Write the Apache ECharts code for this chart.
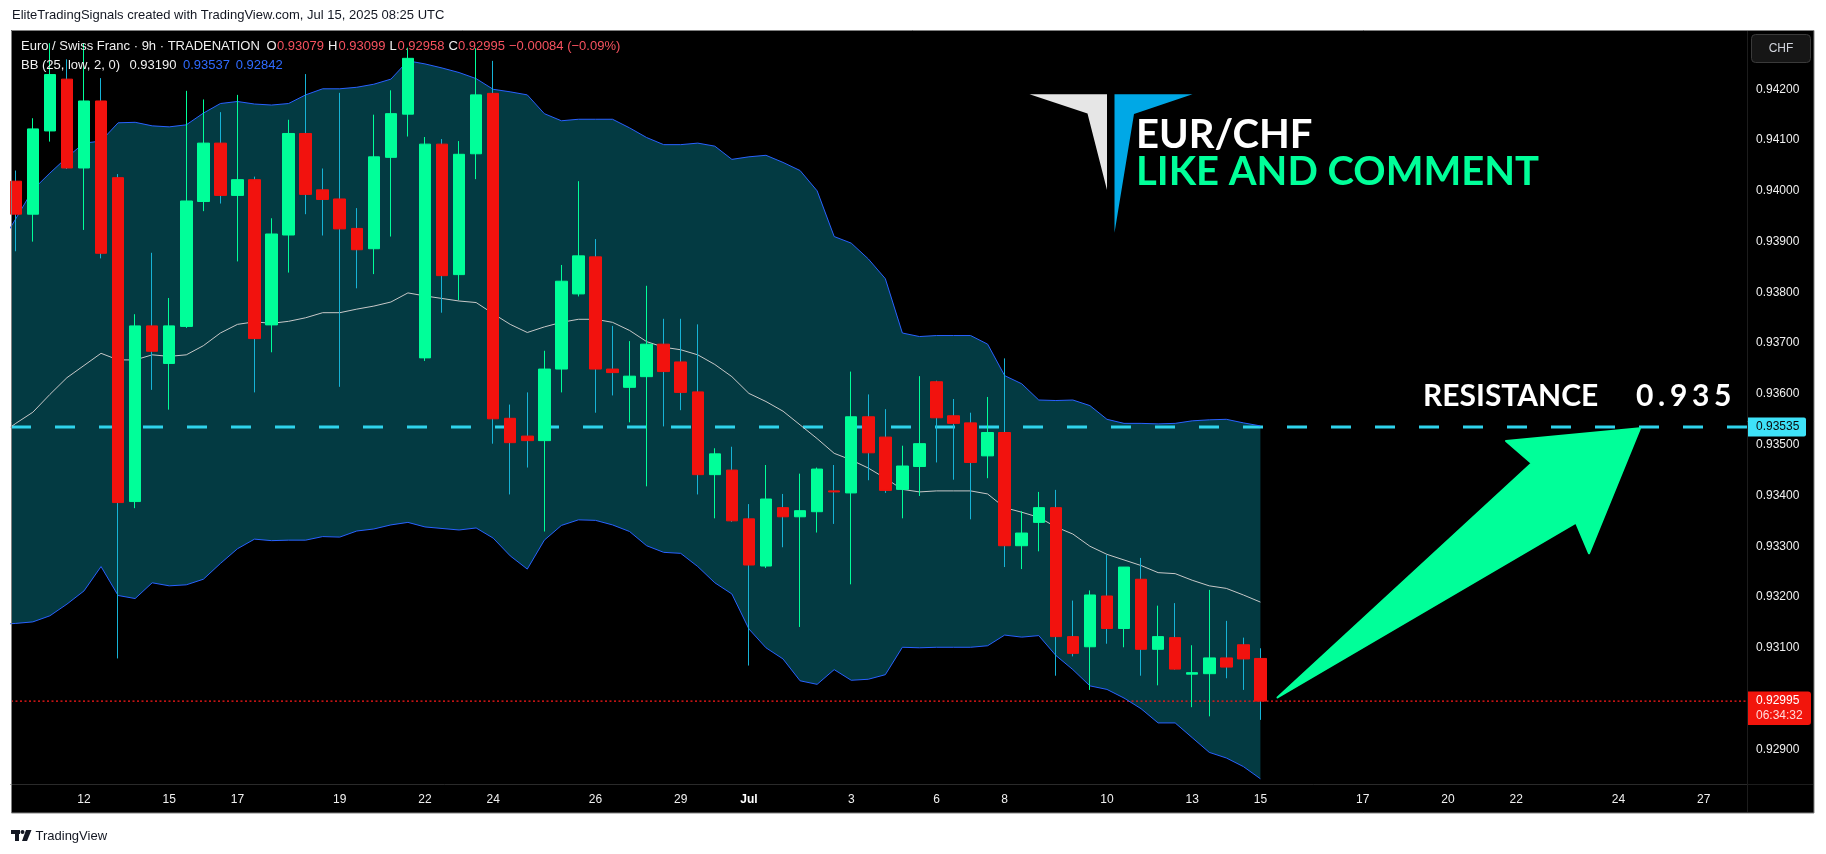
<!DOCTYPE html>
<html>
<head>
<meta charset="utf-8">
<script src="https://cdn.jsdelivr.net/npm/echarts@6.0.0/dist/echarts.min.js"></script>
<style>
html,body{margin:0;padding:0;background:#ffffff;}
#c{width:1826px;height:854px;}
</style>
</head>
<body>
<div id="c"></div>
<script>
// ---- Candles (9h, EUR/CHF), index 0..73 ----
const opens  = [0.94019,0.93954,0.94118,0.94220,0.94045,0.94177,0.94026,0.93388,0.93734,0.93660,
                0.93733,0.93979,0.94094,0.93991,0.94022,0.93736,0.93913,0.94113,0.94002,0.93984,
                0.93926,0.93886,0.94066,0.94151,0.93671,0.94092,0.93835,0.94073,0.94192,0.93552,
                0.93517,0.93508,0.93649,0.93797,0.93870,0.93649,0.93613,0.93634,0.93698,0.93663,
                0.93604,0.93441,0.93450,0.93354,0.93261,0.93376,0.93358,0.93368,0.93409,0.93405,
                0.93555,0.93515,0.93412,0.93457,0.93624,0.93557,0.93543,0.93478,0.93524,0.93301,
                0.93347,0.93376,0.93122,0.93102,0.93202,0.93138,0.93235,0.93097,0.93120,0.93048,
                0.93049,0.93080,0.93106,0.93079];
const highs  = [0.94040,0.94143,0.94291,0.94259,0.94291,0.94222,0.94033,0.93757,0.93878,0.93789,
                0.94197,0.94180,0.94155,0.94189,0.94028,0.93946,0.94140,0.94230,0.94044,0.94193,
                0.93966,0.94150,0.94198,0.94282,0.94106,0.94102,0.94098,0.94281,0.94256,0.93579,
                0.93603,0.93685,0.93854,0.94019,0.93905,0.93734,0.93704,0.93813,0.93748,0.93748,
                0.93737,0.93493,0.93496,0.93383,0.93460,0.93403,0.93443,0.93455,0.93460,0.93644,
                0.93599,0.93570,0.93498,0.93635,0.93626,0.93590,0.93563,0.93594,0.93670,0.93369,
                0.93407,0.93411,0.93193,0.93213,0.93283,0.93259,0.93277,0.93183,0.93188,0.93105,
                0.93214,0.93153,0.93120,0.93099];
const lows   = [0.93881,0.93900,0.94097,0.94043,0.93923,0.93867,0.93079,0.93375,0.93608,0.93569,
                0.93730,0.93960,0.93975,0.93861,0.93603,0.93682,0.93839,0.93954,0.93912,0.93614,
                0.93808,0.93836,0.93910,0.94107,0.93665,0.93760,0.93785,0.94023,0.93502,0.93402,
                0.93455,0.93329,0.93603,0.93792,0.93563,0.93597,0.93544,0.93418,0.93536,0.93568,
                0.93402,0.93355,0.93348,0.93065,0.93257,0.93298,0.93141,0.93327,0.93344,0.93225,
                0.93430,0.93405,0.93355,0.93399,0.93465,0.93431,0.93353,0.93434,0.93259,0.93255,
                0.93290,0.93045,0.93083,0.93017,0.93108,0.93101,0.93045,0.93026,0.93057,0.92983,
                0.92965,0.93040,0.93017,0.92958];
const closes = [0.93954,0.94122,0.94229,0.94045,0.94177,0.93877,0.93386,0.93734,0.93684,0.93734,
                0.93980,0.94094,0.93991,0.94022,0.93709,0.93915,0.94113,0.93993,0.93983,0.93925,
                0.93884,0.94067,0.94152,0.94261,0.94092,0.93833,0.94072,0.94189,0.93551,0.93504,
                0.93508,0.93649,0.93822,0.93872,0.93649,0.93642,0.93635,0.93698,0.93644,0.93603,
                0.93441,0.93482,0.93350,0.93263,0.93393,0.93358,0.93370,0.93452,0.93407,0.93555,
                0.93484,0.93410,0.93458,0.93502,0.93553,0.93542,0.93465,0.93524,0.93301,0.93326,
                0.93376,0.93122,0.93089,0.93204,0.93138,0.93259,0.93097,0.93122,0.93058,0.93051,
                0.93080,0.93062,0.93078,0.92995];

// ---- Bollinger Bands (25, low, 2), index -1..73 ----
const bbStart = -1;
const bbUpper = [0.93890,0.93945,0.94002,0.94035,0.94066,0.94094,0.94098,0.94134,0.94135,0.94128,0.94126,
                 0.94130,0.94153,0.94172,0.94176,0.94171,0.94169,0.94172,0.94189,0.94201,0.94201,
                 0.94204,0.94210,0.94220,0.94256,0.94250,0.94242,0.94233,0.94221,0.94200,0.94195,
                 0.94189,0.94152,0.94138,0.94141,0.94141,0.94141,0.94124,0.94105,0.94091,0.94091,
                 0.94094,0.94088,0.94062,0.94067,0.94070,0.94056,0.94040,0.94000,0.93910,0.93897,
                 0.93866,0.93827,0.93720,0.93713,0.93715,0.93715,0.93715,0.93698,0.93636,0.93620,
                 0.93588,0.93587,0.93588,0.93577,0.93550,0.93542,0.93542,0.93541,0.93542,0.93547,
                 0.93549,0.93550,0.93543,0.93537];
const bbBasis = [0.93518,0.93542,0.93564,0.93599,0.93632,0.93656,0.93680,0.93667,0.93667,0.93677,0.93674,
                 0.93677,0.93695,0.93720,0.93737,0.93742,0.93739,0.93743,0.93750,0.93760,0.93760,
                 0.93767,0.93773,0.93781,0.93799,0.93793,0.93788,0.93783,0.93780,0.93758,0.93737,
                 0.93721,0.93732,0.93741,0.93747,0.93747,0.93741,0.93725,0.93703,0.93692,0.93687,
                 0.93677,0.93658,0.93634,0.93601,0.93585,0.93566,0.93539,0.93512,0.93483,0.93470,
                 0.93454,0.93434,0.93412,0.93407,0.93409,0.93409,0.93409,0.93403,0.93376,0.93367,
                 0.93357,0.93338,0.93324,0.93300,0.93284,0.93273,0.93262,0.93248,0.93246,0.93233,
                 0.93222,0.93217,0.93204,0.93190];
const bbLower = [0.93146,0.93148,0.93151,0.93163,0.93186,0.93212,0.93260,0.93203,0.93197,0.93228,0.93222,
                 0.93224,0.93235,0.93266,0.93295,0.93314,0.93311,0.93312,0.93312,0.93319,0.93318,
                 0.93330,0.93334,0.93342,0.93347,0.93338,0.93335,0.93332,0.93336,0.93316,0.93281,
                 0.93255,0.93312,0.93341,0.93352,0.93351,0.93342,0.93329,0.93301,0.93288,0.93286,
                 0.93260,0.93228,0.93206,0.93137,0.93100,0.93078,0.93035,0.93028,0.93057,0.93036,
                 0.93038,0.93047,0.93101,0.93100,0.93101,0.93101,0.93101,0.93104,0.93125,0.93121,
                 0.93124,0.93085,0.93057,0.93025,0.93018,0.93001,0.92980,0.92952,0.92952,0.92923,
                 0.92894,0.92883,0.92866,0.92842];

// ---- Axis ticks ----
const xTickIndex = [4, 9, 13, 19, 24, 28, 34, 39, 43, 49, 54, 58, 64, 69, 73, 79, 84, 88, 94, 99];
const xTickText  = ['12','15','17','19','22','24','26','29','Jul','3','6','8','10','13','15','17','20','22','24','27'];
const priceTicks = [0.929,0.930,0.931,0.932,0.933,0.934,0.935,0.936,0.937,0.938,0.939,0.940,0.941,0.942];

// ---- Levels ----
const resistance = 0.93535;
const lastPrice = 0.92995;
const countdown = '06:34:32';

// axis ranges
const X_MIN = -0.2815, X_MAX = 101.54;
const Y_MIN = 0.928317, Y_MAX = 0.943168;

// ---- Colours ----
const UP = '#00ff99', DOWN = '#f2120e', DOWN_WICK = '#16b3d6';
const UI_FONT = '"Liberation Sans", Arial, sans-serif';

const wickData = opens.map((o, i) => [i, o, closes[i], lows[i], highs[i]]);
const bodyData = opens.map((o, i) => [i, o, closes[i], Math.min(o, closes[i]), Math.max(o, closes[i])]);
const pts = arr => arr.map((v, k) => [k + bbStart, v]);

const chart = echarts.init(document.getElementById('c'), null, {renderer: 'canvas', width: 1826, height: 854});

const option = {
  animation: false,
  backgroundColor: '#ffffff',
  grid: {left: 11, top: 30, width: 1736, height: 754, containLabel: false},
  xAxis: {
    type: 'value', min: X_MIN, max: X_MAX,
    axisLine: {show: true, onZero: false, lineStyle: {color: '#2a2a2a', width: 1}},
    axisTick: {show: false},
    splitLine: {show: false},
    axisLabel: {
      customValues: xTickIndex,
      formatter: function (v) {
        const k = xTickIndex.indexOf(Math.round(v));
        if (k < 0) return '';
        const t = xTickText[k];
        return t === 'Jul' ? '{b|Jul}' : t;
      },
      color: '#f0f0f0', fontSize: 12, fontFamily: UI_FONT, margin: 10,
      rich: {b: {fontWeight: 'bold', color: '#ffffff', fontSize: 12, fontFamily: UI_FONT}}
    }
  },
  yAxis: {
    type: 'value', position: 'right', min: Y_MIN, max: Y_MAX,
    axisLine: {show: false}, axisTick: {show: false}, splitLine: {show: false},
    axisLabel: {
      customValues: priceTicks,
      formatter: v => v.toFixed(5),
      color: '#f0f0f0', fontSize: 12, fontFamily: UI_FONT, margin: 9
    }
  },
  series: [
    // band fill between upper and lower
    {type: 'custom', name: 'bbFill', silent: true, clip: true, z: 1,
     encode: {x: 0, y: 1},
     data: [[0, bbBasis[1]]],
     renderItem: function (params, api) {
       const top = bbUpper.map((v, k) => api.coord([k + bbStart, v]));
       const bot = bbLower.map((v, k) => api.coord([k + bbStart, v])).reverse();
       return {type: 'polygon', shape: {points: top.concat(bot)}, style: {fill: '#033a42'}};
     }},
    // resistance level
    {type: 'line', name: 'resistance', data: [[X_MIN, resistance], [X_MAX, resistance]],
     showSymbol: false, silent: true, z: 2,
     lineStyle: {color: '#2fd3ec', width: 3, type: [20, 24]}},
    // last price level
    {type: 'line', name: 'last', data: [[X_MIN, lastPrice], [X_MAX, lastPrice]],
     showSymbol: false, silent: true, z: 2,
     lineStyle: {color: '#ff1a1a', width: 1.3, type: [2, 2.5]}},
    {type: 'line', name: 'Upper', data: pts(bbUpper), showSymbol: false, silent: true,
     lineStyle: {color: '#2962ff', width: 1}, z: 3},
    {type: 'line', name: 'Lower', data: pts(bbLower), showSymbol: false, silent: true,
     lineStyle: {color: '#2962ff', width: 1}, z: 3},
    {type: 'line', name: 'Basis', data: pts(bbBasis), showSymbol: false, silent: true,
     lineStyle: {color: '#c8c8c8', width: 1}, z: 3},
    {type: 'candlestick', name: 'wicks', data: wickData, barWidth: 0.01, silent: true, z: 4,
     encode: {x: 0, y: [1, 2, 3, 4]},
     itemStyle: {color: 'rgba(0,0,0,0)', color0: 'rgba(0,0,0,0)', borderColor: UP, borderColor0: DOWN_WICK, borderWidth: 1}},
    {type: 'candlestick', name: 'bodies', data: bodyData, barWidth: 12, silent: true, z: 5,
     encode: {x: 0, y: [1, 2, 3, 4]},
     itemStyle: {color: UP, color0: DOWN, borderColor: UP, borderColor0: DOWN, borderWidth: 1}}
  ]
};
chart.setOption(option);

const yRes = chart.convertToPixel({yAxisIndex: 0}, resistance);
const yLast = chart.convertToPixel({yAxisIndex: 0}, lastPrice);

function txt(text, x, y, fill, font, align, z) {
  return {type: 'text', z: z || 50, style: {text: text, x: x, y: y, fill: fill, font: font,
    textAlign: align || 'left', textVerticalAlign: 'middle', verticalAlign: 'middle'}};
}

const F13 = '13px ' + UI_FONT;
const F12 = '12px ' + UI_FONT;
const RED_TXT = '#f7525f', BLUE_TXT = '#2f6bff';
const BIG = 'bold 30px Lato, sans-serif';

const graphics = [
  // panel background & borders
  {type: 'rect', z: -100, shape: {x: 11, y: 30, width: 1803, height: 783}, style: {fill: '#000000'}},
  {type: 'rect', z: 60, shape: {x: 11.5, y: 30.5, width: 1802.5, height: 782.5}, style: {fill: null, stroke: '#808080', lineWidth: 1}},
  {type: 'line', z: 60, shape: {x1: 1747.5, y1: 31, x2: 1747.5, y2: 812}, style: {stroke: '#1c1c1c', lineWidth: 1}},
  {type: 'line', z: 60, shape: {x1: 1747, y1: 784.5, x2: 1813, y2: 784.5}, style: {stroke: '#1c1c1c', lineWidth: 1}},

  // top title (outside panel)
  txt('EliteTradingSignals created with TradingView.com, Jul 15, 2025 08:25 UTC', 12, 15, '#131722', F13),

  // legend rows
  txt('Euro / Swiss Franc · 9h · TRADENATION', 21, 46.5, '#f0f0f0', F13),
  txt('O', 266.5, 46.5, '#f0f0f0', F13), txt('0.93079', 277, 46.5, RED_TXT, F13),
  txt('H', 328, 46.5, '#f0f0f0', F13), txt('0.93099', 338.5, 46.5, RED_TXT, F13),
  txt('L', 389.5, 46.5, '#f0f0f0', F13), txt('0.92958', 397.5, 46.5, RED_TXT, F13),
  txt('C', 448.5, 46.5, '#f0f0f0', F13), txt('0.92995', 458, 46.5, RED_TXT, F13),
  txt('\u22120.00084 (\u22120.09%)', 509, 46.5, RED_TXT, F13),
  txt('BB (25, low, 2, 0)', 21, 65.7, '#f0f0f0', F13),
  txt('0.93190', 129.5, 65.7, '#f0f0f0', F13),
  txt('0.93537', 183, 65.7, BLUE_TXT, F13),
  txt('0.92842', 235.7, 65.7, BLUE_TXT, F13),

  // CHF button
  {type: 'rect', z: 50, shape: {x: 1751.5, y: 34.5, width: 59, height: 28, r: 4}, style: {fill: '#161616', stroke: '#3a3a3a', lineWidth: 1}},
  txt('CHF', 1781, 48.5, '#d1d4dc', F12, 'center'),

  // resistance axis label
  {type: 'rect', z: 50, shape: {x: 1747, y: yRes - 9.5, width: 59, height: 19, r: [0, 2, 2, 0]}, style: {fill: '#3ee2f8'}},
  txt(resistance.toFixed(5), 1756, yRes, '#0b0b0b', F12),

  // last price axis label
  {type: 'rect', z: 50, shape: {x: 1747, y: yLast - 9.7, width: 64, height: 33.7, r: [0, 3, 3, 0]}, style: {fill: '#f2150c'}},
  txt(lastPrice.toFixed(5), 1756, yLast, '#ffffff', F12),
  txt(countdown, 1756, yLast + 14.6, '#ffd9d9', F12),

  // logo
  {type: 'polygon', z: 50, shape: {points: [[1029.5, 94.3], [1107, 94.3], [1107, 190], [1087.5, 113.5]]}, style: {fill: '#e6e6e6'}},
  {type: 'polygon', z: 50, shape: {points: [[1114.5, 94.3], [1192.5, 94.3], [1134, 114], [1114.5, 232.7]]}, style: {fill: '#00a8e6'}},
  txt('EUR/CHF', 1136, 135.5, '#ffffff', 'bold 40px Lato, sans-serif'),
  txt('LIKE AND COMMENT', 1136, 172, '#00ff99', 'bold 40px Lato, sans-serif'),

  // resistance annotation
  txt('RESISTANCE', 1423, 396.5, '#ffffff', BIG),
  txt('0', 1636, 396.5, '#ffffff', BIG),
  txt('.', 1658, 396.5, '#ffffff', BIG),
  txt('9', 1670, 396.5, '#ffffff', BIG),
  txt('3', 1692, 396.5, '#ffffff', BIG),
  txt('5', 1714, 396.5, '#ffffff', BIG),

  // arrow
  {type: 'polygon', z: 50, shape: {points: [[1277.5, 697.5], [1531.7, 463.3], [1506, 441], [1640, 428.3], [1589, 553.3], [1576, 522.7]]},
   style: {fill: '#00ff99', stroke: '#00ff99', lineWidth: 2, lineJoin: 'round'}},

  // bottom brand
  {type: 'rect', z: 50, shape: {x: 11, y: 830, width: 9, height: 4}, style: {fill: '#131722'}},
  {type: 'rect', z: 50, shape: {x: 15, y: 830, width: 4, height: 11}, style: {fill: '#131722'}},
  {type: 'circle', z: 50, shape: {cx: 22.5, cy: 832, r: 2}, style: {fill: '#131722'}},
  {type: 'polygon', z: 50, shape: {points: [[26, 830], [31.5, 830], [27, 841], [22, 841]]}, style: {fill: '#131722'}},
  txt('TradingView', 35.5, 836, '#131722', F13)
];

chart.setOption({graphic: {elements: graphics}});
</script>
</body>
</html>
